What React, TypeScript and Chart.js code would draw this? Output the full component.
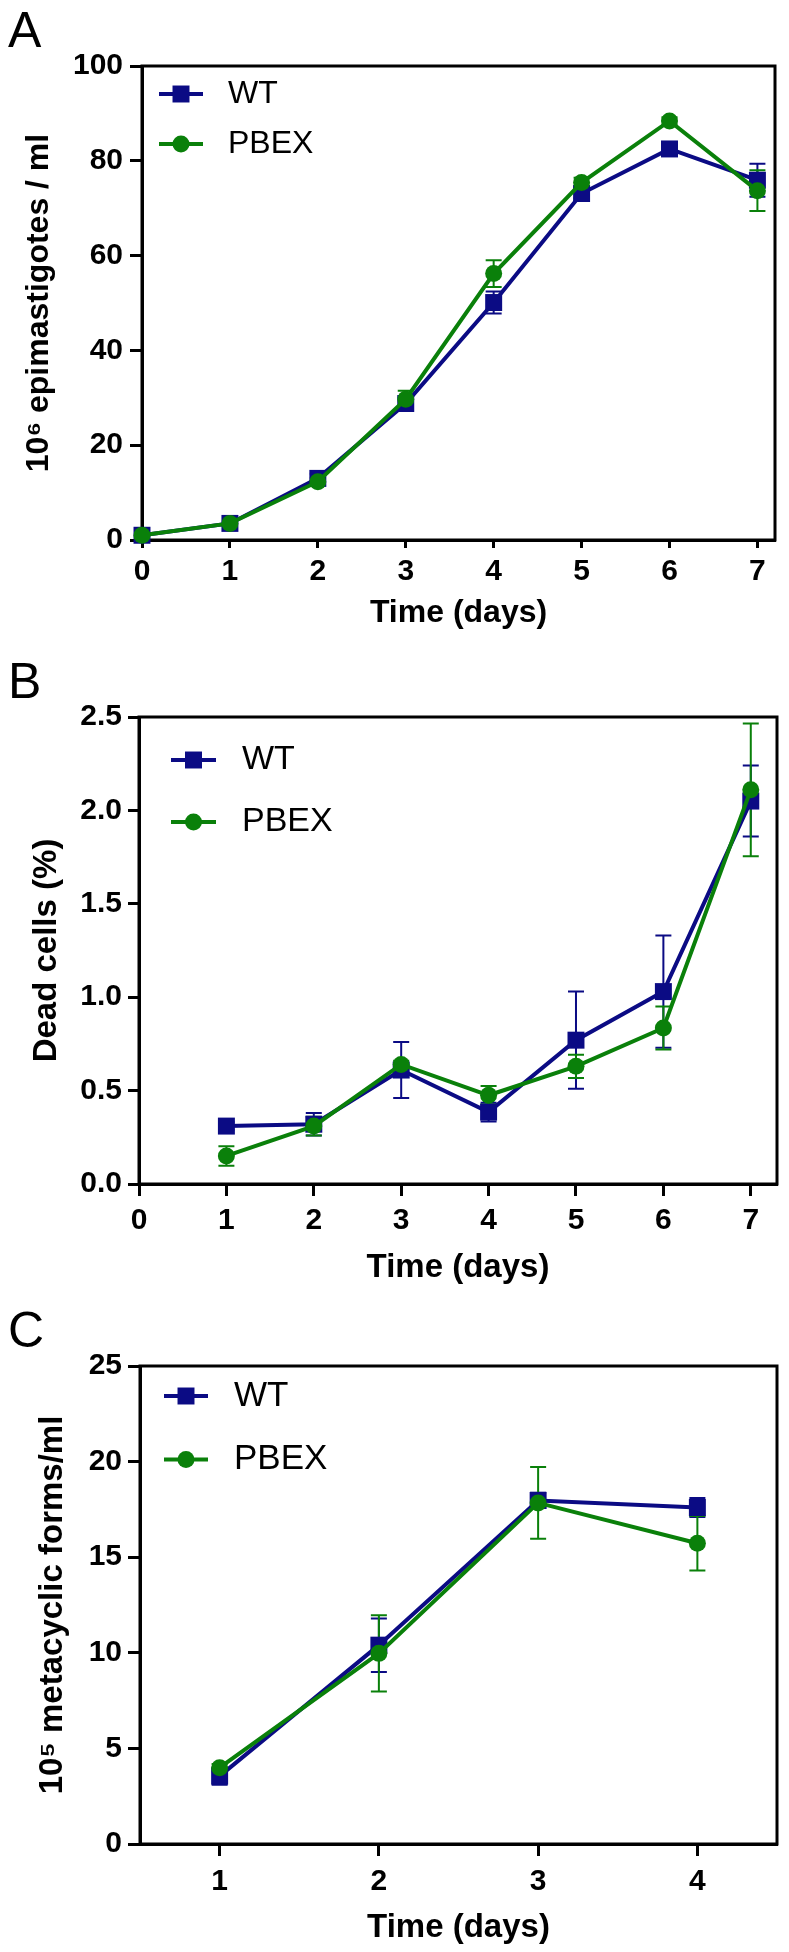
import React, { useEffect, useRef } from "react";
import { Chart, registerables } from "chart.js";

Chart.register(...registerables);

const FONT = '"Liberation Sans", Arial, Helvetica, sans-serif';
const WT_COLOR = "#0b0b84";
const PBEX_COLOR = "#0a800a";
const seriesNames = ["WT", "PBEX"];
const xTitle = "Time (days)";

// ---------- Panel A ----------
const daysA = [0, 1, 2, 3, 4, 5, 6, 7];
const wtA = [1.0, 3.5, 13.0, 28.8, 50.1, 73.1, 82.5, 75.9];
const wtErrA = [0.3, 0.5, 1.0, 1.2, 2.3, 1.0, 1.0, 3.5];
const pbexA = [1.0, 3.5, 12.3, 29.7, 56.2, 75.4, 88.4, 73.7];
const pbexErrA = [0.3, 0.4, 0.8, 1.8, 2.8, 1.0, 0.8, 4.3];
const xTicksA = [0, 1, 2, 3, 4, 5, 6, 7];
const xTickLabelsA = ["0", "1", "2", "3", "4", "5", "6", "7"];
const yTicksA = [0, 20, 40, 60, 80, 100];
const yTickLabelsA = ["0", "20", "40", "60", "80", "100"];
const yTitleA = "10\u2076 epimastigotes / ml";

// ---------- Panel B ----------
const daysB = [1, 2, 3, 4, 5, 6, 7];
const wtB = [0.31, 0.32, 0.61, 0.385, 0.77, 1.03, 2.05];
const wtErrB = [0.02, 0.06, 0.15, 0.05, 0.26, 0.3, 0.19];
const pbexB = [0.15, 0.31, 0.64, 0.475, 0.63, 0.835, 2.11];
const pbexErrB = [0.052, 0.05, 0.02, 0.05, 0.062, 0.115, 0.355];
const xTicksB = [0, 1, 2, 3, 4, 5, 6, 7];
const xTickLabelsB = ["0", "1", "2", "3", "4", "5", "6", "7"];
const yTicksB = [0, 0.5, 1, 1.5, 2, 2.5];
const yTickLabelsB = ["0.0", "0.5", "1.0", "1.5", "2.0", "2.5"];
const yTitleB = "Dead cells (%)";

// ---------- Panel C ----------
const daysC = [1, 2, 3, 4];
const wtC = [3.55, 10.4, 17.97, 17.6];
const wtErrC = [0.45, 1.4, 0.4, 0.5];
const pbexC = [3.99, 9.97, 17.84, 15.73];
const pbexErrC = [0.2, 2.0, 1.88, 1.42];
const xTicksC = [1, 2, 3, 4];
const xTickLabelsC = ["1", "2", "3", "4"];
const yTicksC = [0, 5, 10, 15, 20, 25];
const yTickLabelsC = ["0", "5", "10", "15", "20", "25"];
const yTitleC = "10\u2075 metacyclic forms/ml";

type Panel = {
  letter: string;
  letterTop: number;
  canvasTop: number;
  canvasHeight: number;
  areaTop: number;
  yAxisWidth: number;
  areaRight: number;
  xAxisHeight: number;
  xMin: number;
  xMax: number;
  yMin: number;
  yMax: number;
  days: number[];
  wt: number[];
  wtErr: number[];
  pbex: number[];
  pbexErr: number[];
  xTicks: number[];
  xTickLabels: string[];
  yTicks: number[];
  yTickLabels: string[];
  yTitle: string;
  xTickLen: number;
  xTickPad: number;
  yTickLen: number;
  yTickPad: number;
  titleSize: number;
  xTitlePad: number;
  yTitlePad: number;
  legend: { lineStart: number; lineLen: number; textX: number; rows: number[]; size: number };
};

const panels: Panel[] = [
  {
    letter: "A", letterTop: 4.5, canvasTop: 0, canvasHeight: 650,
    areaTop: 66, yAxisWidth: 142, areaRight: 775, xAxisHeight: 110,
    xMin: 0, xMax: 7.2, yMin: 0, yMax: 100,
    days: daysA, wt: wtA, wtErr: wtErrA, pbex: pbexA, pbexErr: pbexErrA,
    xTicks: xTicksA, xTickLabels: xTickLabelsA, yTicks: yTicksA, yTickLabels: yTickLabelsA,
    yTitle: yTitleA,
    xTickLen: 8, xTickPad: 6, yTickLen: 12, yTickPad: 7,
    titleSize: 32, xTitlePad: 17.8, yTitlePad: 19.8,
    legend: { lineStart: 17, lineLen: 44, textX: 86, rows: [28, 78], size: 32 },
  },
  {
    letter: "B", letterTop: 656, canvasTop: 650, canvasHeight: 650,
    areaTop: 67, yAxisWidth: 139, areaRight: 784, xAxisHeight: 116,
    xMin: 0, xMax: 7.3, yMin: 0, yMax: 2.5,
    days: daysB, wt: wtB, wtErr: wtErrB, pbex: pbexB, pbexErr: pbexErrB,
    xTicks: xTicksB, xTickLabels: xTickLabelsB, yTicks: yTicksB, yTickLabels: yTickLabelsB,
    yTitle: yTitleB,
    xTickLen: 12, xTickPad: 7, yTickLen: 11, yTickPad: 6,
    titleSize: 33, xTitlePad: 12.2, yTitlePad: 26.8,
    legend: { lineStart: 32, lineLen: 45, textX: 103, rows: [43, 105], size: 34 },
  },
  {
    letter: "C", letterTop: 1305, canvasTop: 1300, canvasHeight: 652,
    areaTop: 66, yAxisWidth: 140, areaRight: 777, xAxisHeight: 108,
    xMin: 0.5, xMax: 4.5, yMin: 0, yMax: 25,
    days: daysC, wt: wtC, wtErr: wtErrC, pbex: pbexC, pbexErr: pbexErrC,
    xTicks: xTicksC, xTickLabels: xTickLabelsC, yTicks: yTicksC, yTickLabels: yTickLabelsC,
    yTitle: yTitleC,
    xTickLen: 12, xTickPad: 8, yTickLen: 12, yTickPad: 6,
    titleSize: 33, xTitlePad: 4.2, yTitlePad: 33,
    legend: { lineStart: 24, lineLen: 44, textX: 94, rows: [30, 93.5], size: 35 },
  },
];

const RECT_RADIUS = 12;
const CIRCLE_RADIUS = 8.5;
const LINE_WIDTH = 4;
const CAP = 8;

function drawMarker(ctx: CanvasRenderingContext2D, style: string, x: number, y: number, color: string) {
  ctx.fillStyle = color;
  ctx.beginPath();
  if (style === "rect") {
    const s = Math.SQRT1_2 * RECT_RADIUS;
    ctx.rect(x - s, y - s, 2 * s, 2 * s);
  } else {
    ctx.arc(x, y, CIRCLE_RADIUS, 0, Math.PI * 2);
  }
  ctx.fill();
}

const boxPlugin = {
  id: "plotBox",
  beforeDatasetsDraw(chart: any) {
    const { ctx, chartArea } = chart;
    ctx.save();
    ctx.strokeStyle = "#000";
    ctx.lineWidth = 3;
    ctx.strokeRect(chartArea.left, chartArea.top, chartArea.right - chartArea.left, chartArea.bottom - chartArea.top);
    ctx.restore();
  },
};

const errorBarPlugin = {
  id: "errorBars",
  beforeDatasetsDraw(chart: any) {
    const { ctx } = chart;
    const xs = chart.scales.x;
    const ys = chart.scales.y;
    chart.data.datasets.forEach((ds: any) => {
      ctx.save();
      ctx.strokeStyle = ds.borderColor;
      ctx.lineWidth = 2;
      ds.data.forEach((pt: any, j: number) => {
        const e = ds.errors[j];
        const px = xs.getPixelForValue(pt.x);
        const hi = ys.getPixelForValue(pt.y + e);
        const lo = ys.getPixelForValue(pt.y - e);
        ctx.beginPath();
        ctx.moveTo(px, hi);
        ctx.lineTo(px, lo);
        ctx.moveTo(px - CAP, hi);
        ctx.lineTo(px + CAP, hi);
        ctx.moveTo(px - CAP, lo);
        ctx.lineTo(px + CAP, lo);
        ctx.stroke();
      });
      ctx.restore();
    });
  },
};

const legendPlugin = {
  id: "insideLegend",
  afterDatasetsDraw(chart: any, _args: any, opts: any) {
    const { ctx, chartArea } = chart;
    chart.data.datasets.forEach((ds: any, i: number) => {
      const y = chartArea.top + opts.rows[i];
      const x0 = chartArea.left + opts.lineStart;
      const x1 = x0 + opts.lineLen;
      ctx.save();
      ctx.strokeStyle = ds.borderColor;
      ctx.lineWidth = LINE_WIDTH;
      ctx.beginPath();
      ctx.moveTo(x0, y);
      ctx.lineTo(x1, y);
      ctx.stroke();
      drawMarker(ctx, ds.pointStyle, (x0 + x1) / 2, y, ds.borderColor);
      ctx.fillStyle = "#000";
      ctx.font = `${opts.size}px ${FONT}`;
      ctx.textAlign = "left";
      ctx.textBaseline = "middle";
      ctx.fillText(ds.label, chartArea.left + opts.textX, y);
      ctx.restore();
    });
  },
};

function PanelChart({ p }: { p: Panel }) {
  const ref = useRef<HTMLCanvasElement | null>(null);
  useEffect(() => {
    if (!ref.current) return;
    const tickFont = { family: FONT, size: 30, weight: "bold" as const };
    const titleFont = { family: FONT, size: p.titleSize, weight: "bold" as const };
    const chart = new Chart(ref.current, {
      type: "line",
      data: {
        datasets: [
          {
            label: seriesNames[0],
            data: p.days.map((d, j) => ({ x: d, y: p.wt[j] })),
            borderColor: WT_COLOR,
            backgroundColor: WT_COLOR,
            borderWidth: LINE_WIDTH,
            pointStyle: "rect",
            pointRadius: RECT_RADIUS,
            pointBorderWidth: 0,
            pointBackgroundColor: WT_COLOR,
            tension: 0,
            clip: false,
            order: 2,
            errors: p.wtErr,
          } as any,
          {
            label: seriesNames[1],
            data: p.days.map((d, j) => ({ x: d, y: p.pbex[j] })),
            borderColor: PBEX_COLOR,
            backgroundColor: PBEX_COLOR,
            borderWidth: LINE_WIDTH,
            pointStyle: "circle",
            pointRadius: CIRCLE_RADIUS,
            pointBorderWidth: 0,
            pointBackgroundColor: PBEX_COLOR,
            tension: 0,
            clip: false,
            order: 1,
            errors: p.pbexErr,
          } as any,
        ],
      },
      options: {
        responsive: false,
        animation: false,
        devicePixelRatio: 1,
        events: [],
        layout: { padding: { left: 0, top: p.areaTop, right: 789 - p.areaRight, bottom: 0 } },
        plugins: {
          legend: { display: false },
          tooltip: { enabled: false },
          insideLegend: p.legend,
        } as any,
        scales: {
          x: {
            type: "linear",
            min: p.xMin,
            max: p.xMax,
            afterBuildTicks: (s: any) => {
              s.ticks = p.xTicks.map((v) => ({ value: v }));
            },
            afterFit: (s: any) => {
              s.height = p.xAxisHeight;
            },
            ticks: {
              font: tickFont,
              color: "#000",
              padding: p.xTickPad,
              autoSkip: false,
              maxRotation: 0,
              callback: (v: any) => p.xTickLabels[p.xTicks.indexOf(Number(v))],
            },
            grid: { display: true, drawOnChartArea: false, drawTicks: true, tickLength: p.xTickLen, tickWidth: 3, tickColor: "#000" },
            border: { display: true, width: 3, color: "#000" },
            title: { display: true, text: xTitle, font: titleFont, color: "#000", padding: { top: 0, bottom: p.xTitlePad } },
          },
          y: {
            type: "linear",
            min: p.yMin,
            max: p.yMax,
            afterBuildTicks: (s: any) => {
              s.ticks = p.yTicks.map((v) => ({ value: v }));
            },
            afterFit: (s: any) => {
              s.width = p.yAxisWidth;
            },
            ticks: {
              font: tickFont,
              color: "#000",
              padding: p.yTickPad,
              autoSkip: false,
              callback: (v: any) => p.yTickLabels[p.yTicks.indexOf(Number(v))],
            },
            grid: { display: true, drawOnChartArea: false, drawTicks: true, tickLength: p.yTickLen, tickWidth: 3, tickColor: "#000" },
            border: { display: true, width: 3, color: "#000" },
            title: { display: true, text: p.yTitle, font: titleFont, color: "#000", padding: { top: p.yTitlePad, bottom: 0 } },
          },
        },
      } as any,
      plugins: [boxPlugin, errorBarPlugin, legendPlugin],
    });
    return () => chart.destroy();
  }, [p]);

  return (
    <>
      <div
        style={{
          position: "absolute",
          left: 8,
          top: p.letterTop,
          fontFamily: FONT,
          fontSize: 50,
          lineHeight: "50px",
          color: "#000",
          zIndex: 2,
        }}
      >
        {p.letter}
      </div>
      <canvas
        ref={ref}
        width={789}
        height={p.canvasHeight}
        style={{ position: "absolute", left: 0, top: p.canvasTop, width: 789, height: p.canvasHeight, display: "block" }}
      />
    </>
  );
}

export default function App() {
  return (
    <div style={{ position: "absolute", left: 0, top: 0, width: 789, height: 1952, background: "#fff", overflow: "hidden" }}>
      {panels.map((p) => (
        <PanelChart key={p.letter} p={p} />
      ))}
    </div>
  );
}
